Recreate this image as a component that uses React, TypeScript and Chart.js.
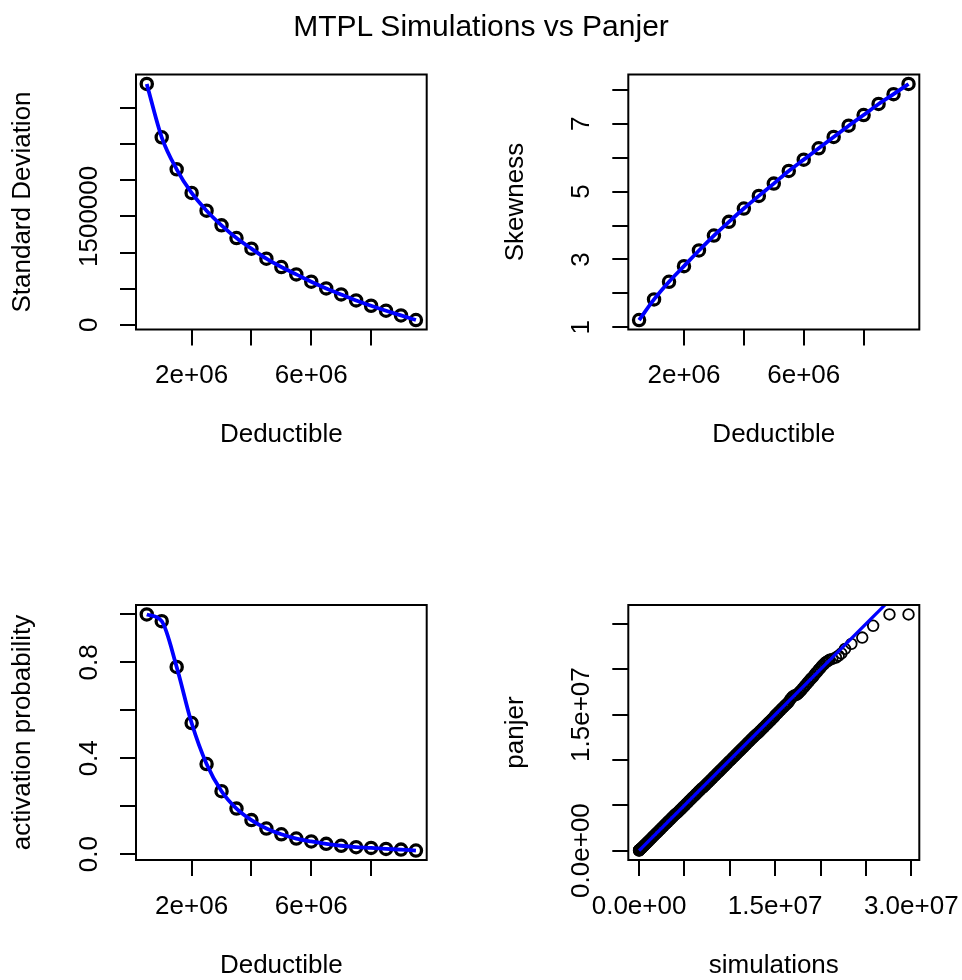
import React, { useEffect, useRef } from 'react';
import { Chart, registerables } from 'chart.js';

Chart.register(...registerables);

// ---------------- data ----------------
const deductibles = [
  500000, 1000000, 1500000, 2000000, 2500000, 3000000, 3500000, 4000000, 4500000, 5000000,
  5500000, 6000000, 6500000, 7000000, 7500000, 8000000, 8500000, 9000000, 9500000,
];
const standardDeviation = [
  3333000, 2595000, 2151000, 1824000, 1579000, 1376000, 1200000, 1053000, 914000, 799000,
  697000, 596000, 503000, 420000, 337000, 263000, 194000, 129000, 65000,
];
const skewness = [
  1.216, 1.824, 2.343, 2.804, 3.265, 3.706, 4.108, 4.5, 4.873, 5.235,
  5.608, 5.941, 6.275, 6.608, 6.941, 7.255, 7.58, 7.87, 8.17,
];
const activationProbability = [
  1.0, 0.972, 0.781, 0.547, 0.376, 0.2625, 0.19, 0.142, 0.107, 0.083,
  0.065, 0.053, 0.043, 0.035, 0.029, 0.026, 0.022, 0.019, 0.015,
];
// QQ plot quantiles, in millions (simulations on x, panjer on y)
const qqSimulationsM = [
  0, 0, 0, 0.02, 0.05, 0.08, 0.12, 0.17, 0.23, 0.3, 0.38, 0.47, 0.57, 0.68, 0.8, 0.93, 1.07, 1.21, 1.35, 1.5,
  1.65, 1.8, 1.95, 2.1, 2.25, 2.4, 2.55, 2.7, 2.85, 3.0, 3.15, 3.3, 3.45, 3.6, 3.75, 3.9, 4.05,
  4.2, 4.35, 4.5, 4.65, 4.8, 4.95, 5.1, 5.25, 5.4, 5.55, 5.7, 5.85, 6.0, 6.15, 6.3, 6.45, 6.6, 6.75, 6.9,
  7.05, 7.2, 7.35, 7.5, 7.65, 7.8, 7.95, 8.1, 8.25, 8.4, 8.55, 8.7, 8.85, 9.0, 9.15, 9.3, 9.45, 9.6, 9.75, 9.9,
  10.05, 10.2, 10.35, 10.5, 10.65, 10.8, 10.95, 11.1, 11.25, 11.4, 11.55, 11.7, 11.85, 12.0, 12.15, 12.3, 12.45, 12.6, 12.75, 12.9,
  13.05, 13.2, 13.35, 13.5, 13.65, 13.8, 13.95, 14.1, 14.25, 14.4, 14.55, 14.7, 14.85,
  15.0, 15.15, 15.3, 15.45, 15.6, 15.75, 15.9, 16.05, 16.2, 16.35, 16.5,
  16.65, 16.8, 16.95, 17.1, 17.25, 17.4, 17.55, 17.7, 17.85, 18.0, 18.15, 18.3, 18.45, 18.6, 18.75,
  18.9, 19.05, 19.2, 19.35, 19.5, 19.65, 19.8, 19.95, 20.1, 20.25, 20.4, 20.55, 20.7, 20.85, 21.0,
  21.3, 21.7, 22.0, 22.3, 22.7, 23.4, 24.6, 25.8, 27.6, 29.7,
];
const qqPanjerM = [
  0, 0.02, 0.05, 0.06, 0.08, 0.1, 0.13, 0.18, 0.24, 0.3, 0.38, 0.47, 0.57, 0.68, 0.8, 0.93, 1.07, 1.21, 1.35, 1.5,
  1.65, 1.8, 1.95, 2.1, 2.25, 2.4, 2.55, 2.7, 2.85, 3.0, 3.15, 3.3, 3.45, 3.6, 3.75, 3.9, 4.05,
  4.15, 4.3, 4.45, 4.6, 4.75, 4.9, 5.05, 5.2, 5.35, 5.5, 5.65, 5.8, 5.95, 6.1, 6.25, 6.4, 6.55, 6.7, 6.85,
  6.95, 7.1, 7.25, 7.4, 7.55, 7.7, 7.85, 8.0, 8.15, 8.3, 8.45, 8.6, 8.75, 8.9, 9.05, 9.2, 9.35, 9.5, 9.65, 9.8,
  9.95, 10.1, 10.25, 10.4, 10.55, 10.7, 10.85, 11.0, 11.15, 11.3, 11.45, 11.6, 11.75, 11.9, 12.05, 12.2, 12.35, 12.5, 12.65, 12.8,
  12.9, 13.05, 13.2, 13.35, 13.5, 13.65, 13.8, 13.95, 14.1, 14.25, 14.4, 14.55, 14.7,
  14.9, 15.05, 15.2, 15.35, 15.5, 15.65, 15.8, 15.95, 16.1, 16.25, 16.4,
  16.65, 16.85, 17.0, 17.1, 17.15, 17.2, 17.35, 17.5, 17.65, 17.85, 18.0, 18.2, 18.35, 18.55, 18.7,
  18.9, 19.05, 19.2, 19.4, 19.6, 19.75, 19.95, 20.1, 20.3, 20.45, 20.6, 20.75, 20.85, 20.95, 21.05,
  21.15, 21.3, 21.5, 21.75, 22.25, 22.8, 23.5, 24.8, 26.05, 26.05,
];
const identityLine = [0, 40000000];

// ---------------- ticks ----------------
const deductibleTicks = [2000000, 4000000, 6000000, 8000000];
const deductibleTickLabels = ['2e+06', '', '6e+06', ''];
const sdTicks = [0, 500000, 1000000, 1500000, 2000000, 2500000, 3000000];
const sdTickLabels = ['0', '', '', '1500000', '', '', ''];
const skewTicks = [1, 2, 3, 4, 5, 6, 7, 8];
const skewTickLabels = ['1', '', '3', '', '5', '', '7', ''];
const probTicks = [0, 0.2, 0.4, 0.6, 0.8, 1.0];
const probTickLabels = ['0.0', '', '0.4', '', '0.8', ''];
const qqXTicks = [0, 5000000, 10000000, 15000000, 20000000, 25000000, 30000000];
const qqXTickLabels = ['0.0e+00', '', '', '1.5e+07', '', '', '3.0e+07'];
const qqYTicks = [0, 5000000, 10000000, 15000000, 20000000, 25000000];
const qqYTickLabels = ['0.0e+00', '', '', '1.5e+07', '', ''];

// ---------------- layout ----------------
const FONT = "'Liberation Sans', Arial, Helvetica, sans-serif";
const CELL_W = 481;
const CELL_H = 500;
const XH = 121.1;

function rRange(v: number[]): [number, number] {
  const mn = Math.min(...v);
  const mx = Math.max(...v);
  const d = (mx - mn) * 0.04;
  return [mn - d, mx + d];
}

type PanelDef = {
  cx: number; cy: number;
  L: number; T: number; R: number; B: number;
  xTicks: number[]; xLabels: string[];
  yTicks: number[]; yLabels: string[];
  xTitle: string; yTitle: string;
  xRange: [number, number]; yRange: [number, number];
  makeDatasets: () => any[];
};

const blue = '#0000FF';

function pointDataset(xs: number[], ys: number[], radius: number, width: number) {
  return {
    type: 'scatter',
    data: xs.map((x, i) => ({ x, y: ys[i] })),
    showLine: false,
    pointRadius: radius,
    pointBorderWidth: width,
    pointBorderColor: '#000',
    pointBackgroundColor: 'rgba(0,0,0,0)',
    order: 5,
  };
}

function lineDataset(xs: number[], ys: number[], width: number, smooth: boolean) {
  return {
    type: 'line',
    data: xs.map((x, i) => ({ x, y: ys[i] })),
    borderColor: blue,
    borderWidth: width,
    pointRadius: 0,
    cubicInterpolationMode: smooth ? 'monotone' : 'default',
    order: -5,
  };
}

const qqX = qqSimulationsM.map((v) => v * 1e6);
const qqY = qqPanjerM.map((v) => v * 1e6);

const panels: PanelDef[] = [
  {
    cx: 0, cy: 0, L: 136, T: 74.5, R: 426.7, B: 329.5,
    xTicks: deductibleTicks, xLabels: deductibleTickLabels,
    yTicks: sdTicks, yLabels: sdTickLabels,
    xTitle: 'Deductible', yTitle: 'Standard Deviation',
    xRange: rRange(deductibles), yRange: rRange(standardDeviation),
    makeDatasets: () => [
      lineDataset(deductibles, standardDeviation, 3.8, true),
      pointDataset(deductibles, standardDeviation, 5.6, 3.3),
    ],
  },
  {
    cx: 481, cy: 0, L: 628.3, T: 74.5, R: 919.3, B: 329.5,
    xTicks: deductibleTicks, xLabels: deductibleTickLabels,
    yTicks: skewTicks, yLabels: skewTickLabels,
    xTitle: 'Deductible', yTitle: 'Skewness',
    xRange: rRange(deductibles), yRange: rRange(skewness),
    makeDatasets: () => [
      lineDataset(deductibles, skewness, 3.8, true),
      pointDataset(deductibles, skewness, 5.6, 3.3),
    ],
  },
  {
    cx: 0, cy: 490, L: 136, T: 605, R: 426.7, B: 860,
    xTicks: deductibleTicks, xLabels: deductibleTickLabels,
    yTicks: probTicks, yLabels: probTickLabels,
    xTitle: 'Deductible', yTitle: 'activation probability',
    xRange: rRange(deductibles), yRange: rRange(activationProbability),
    makeDatasets: () => [
      lineDataset(deductibles, activationProbability, 3.8, true),
      pointDataset(deductibles, activationProbability, 5.6, 3.3),
    ],
  },
  {
    cx: 481, cy: 490, L: 628.3, T: 605, R: 919.3, B: 860,
    xTicks: qqXTicks, xLabels: qqXTickLabels,
    yTicks: qqYTicks, yLabels: qqYTickLabels,
    xTitle: 'simulations', yTitle: 'panjer',
    xRange: rRange(qqX), yRange: rRange(qqY),
    makeDatasets: () => [
      lineDataset(identityLine, identityLine, 3.2, false),
      pointDataset(qqX, qqY, 5.3, 1.8),
    ],
  },
];

function Panel({ p }: { p: PanelDef }) {
  const ref = useRef<HTMLCanvasElement>(null);
  useEffect(() => {
    const canvas = ref.current;
    if (!canvas) return;
    const YW = p.L - p.cx;
    const yTitlePad = YW - 112.7 - 15.6;
    const boxPlugin = {
      id: 'rBox',
      afterDraw(chart: any) {
        const { ctx, chartArea } = chart;
        ctx.save();
        ctx.strokeStyle = '#000';
        ctx.lineWidth = 2;
        ctx.strokeRect(chartArea.left, chartArea.top, chartArea.right - chartArea.left, chartArea.bottom - chartArea.top);
        ctx.restore();
      },
    };
    const yLabelPlugin = {
      id: 'rYLabels',
      afterDraw(chart: any) {
        const { ctx, chartArea } = chart;
        const s = chart.scales.y;
        ctx.save();
        ctx.font = `26px ${FONT}`;
        ctx.fillStyle = '#000';
        ctx.textAlign = 'center';
        ctx.textBaseline = 'alphabetic';
        p.yTicks.forEach((v, i) => {
          const label = p.yLabels[i];
          if (!label) return;
          const y = s.getPixelForValue(v);
          ctx.save();
          ctx.translate(chartArea.left - 39.3, y);
          ctx.rotate(-Math.PI / 2);
          ctx.fillText(label, 0, 0);
          ctx.restore();
        });
        ctx.restore();
      },
    };
    const gridOpts = {
      display: true,
      drawOnChartArea: false,
      drawTicks: true,
      tickLength: 16,
      color: '#000',
      tickColor: '#000',
      lineWidth: 2,
      tickWidth: 2,
    };
    const chart = new Chart(canvas, {
      type: 'scatter',
      data: { datasets: p.makeDatasets() as any },
      options: {
        responsive: false,
        maintainAspectRatio: false,
        animation: false,
        events: [],
        layout: {
          padding: {
            left: 0,
            top: p.T - p.cy,
            right: p.cx + CELL_W - p.R,
            bottom: p.cy + CELL_H - (p.B + XH),
          },
        },
        plugins: {
          legend: { display: false },
          tooltip: { enabled: false },
          title: { display: false },
        },
        scales: {
          x: {
            type: 'linear',
            position: 'bottom',
            bounds: 'data',
            min: p.xRange[0],
            max: p.xRange[1],
            afterBuildTicks: (s: any) => {
              s.ticks = p.xTicks.map((v) => ({ value: v }));
            },
            afterFit: (s: any) => {
              s.height = XH;
              s.paddingLeft = 0;
              s.paddingRight = 0;
              s.paddingTop = 0;
              s.paddingBottom = 0;
            },
            ticks: {
              autoSkip: false,
              maxRotation: 0,
              minRotation: 0,
              padding: 15,
              color: '#000',
              font: { family: FONT, size: 26 },
              callback: (v: any) => {
                const idx = p.xTicks.indexOf(Number(v));
                return idx >= 0 ? p.xLabels[idx] : '';
              },
            },
            grid: gridOpts,
            border: { display: false },
            title: {
              display: true,
              text: p.xTitle,
              color: '#000',
              font: { family: FONT, size: 26 },
              padding: { top: 0, bottom: 0 },
            },
          },
          y: {
            type: 'linear',
            position: 'left',
            bounds: 'data',
            min: p.yRange[0],
            max: p.yRange[1],
            afterBuildTicks: (s: any) => {
              s.ticks = p.yTicks.map((v) => ({ value: v }));
            },
            afterFit: (s: any) => {
              s.width = YW;
              s.paddingLeft = 0;
              s.paddingRight = 0;
              s.paddingTop = 0;
              s.paddingBottom = 0;
            },
            ticks: { display: false },
            grid: gridOpts,
            border: { display: false },
            title: {
              display: true,
              text: p.yTitle,
              color: '#000',
              font: { family: FONT, size: 26 },
              padding: { top: yTitlePad, bottom: 0 },
            },
          },
        },
      } as any,
      plugins: [boxPlugin, yLabelPlugin],
    });
    return () => chart.destroy();
  }, [p]);
  return (
    <canvas
      ref={ref}
      width={CELL_W}
      height={CELL_H}
      style={{ position: 'absolute', left: p.cx, top: p.cy, width: CELL_W, height: CELL_H }}
    />
  );
}

export default function App() {
  return (
    <div
      style={{
        position: 'absolute',
        left: 0,
        top: 0,
        width: 962,
        height: 980,
        overflow: 'hidden',
        background: '#fff',
      }}
    >
      {panels.map((p, i) => (
        <Panel key={i} p={p} />
      ))}
      <div
        style={{
          position: 'absolute',
          left: 0,
          top: 11.3,
          width: 962,
          textAlign: 'center',
          fontFamily: FONT,
          fontSize: 30,
          lineHeight: '30px',
          color: '#000',
          whiteSpace: 'nowrap',
        }}
      >
        MTPL Simulations vs Panjer
      </div>
    </div>
  );
}
